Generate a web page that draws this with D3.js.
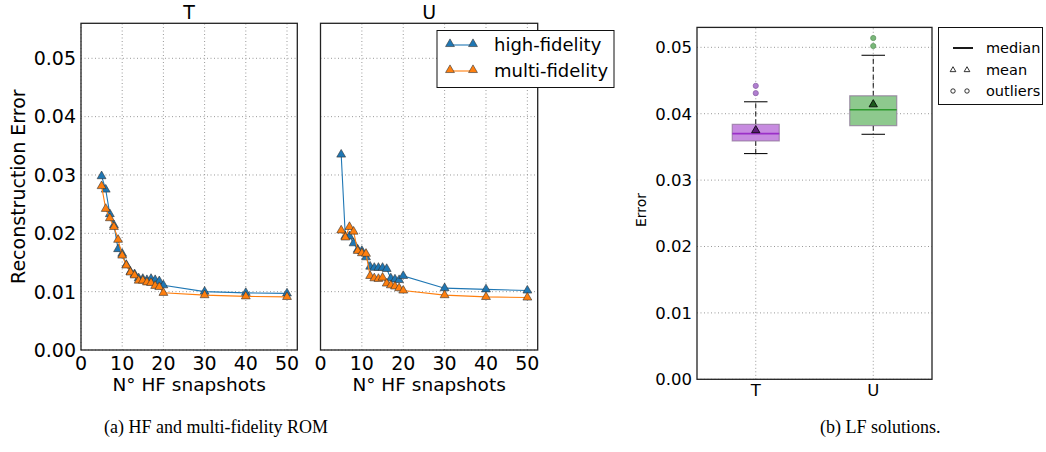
<!DOCTYPE html>
<meta charset="utf-8">
<script src="https://d3js.org/d3.v7.min.js"></script>
<style>
  body { margin: 0; background: #fff; }
  text { font-family: "DejaVu Sans", sans-serif; fill: #000; }
  .caption { font-family: "Liberation Serif", "DejaVu Serif", serif; }
</style>
<div id="my_dataviz"></div>
<script>

// ---- data: panel (a) ----
var snapshots = [5, 6, 7, 8, 9, 10, 11, 12, 13, 14, 15, 16, 17, 18, 19, 20, 30, 40, 50];

var hfT = [0.0298, 0.0275, 0.0233, 0.0214, 0.0173, 0.0165, 0.0146, 0.0134, 0.0130, 0.0123,
           0.0122, 0.0120, 0.0122, 0.0120, 0.0118, 0.0111, 0.0100, 0.0098, 0.0097];
var mfT = [0.0281, 0.0242, 0.0226, 0.0211, 0.0189, 0.0162, 0.0145, 0.0133, 0.0128, 0.0119,
           0.0119, 0.0116, 0.0115, 0.0110, 0.0108, 0.0098, 0.0094, 0.0092, 0.0091];

var hfU = [0.0335, 0.0195, 0.0195, 0.0183, 0.0172, 0.0170, 0.0159, 0.0143, 0.0141, 0.0141,
           0.0141, 0.0139, 0.0123, 0.0121, 0.0120, 0.0127, 0.0106, 0.0104, 0.0102];
var mfU = [0.0205, 0.0193, 0.0211, 0.0203, 0.0170, 0.0166, 0.0165, 0.0127, 0.0123, 0.0122,
           0.0124, 0.0114, 0.0111, 0.0109, 0.0106, 0.0102, 0.0094, 0.0091, 0.0090];

var lineTicksX = [0, 10, 20, 30, 40, 50];
var lineTicksY = [0.00, 0.01, 0.02, 0.03, 0.04, 0.05];
var seriesNames = ["high-fidelity", "multi-fidelity"];

// ---- data: panel (b) ----
var boxLabels = ["T", "U"];
var boxQ1 = [0.0359, 0.0382];
var boxMedian = [0.0370, 0.0406];
var boxQ3 = [0.0384, 0.0427];
var boxMean = [0.0375, 0.0414];
var whiskerLow = [0.0340, 0.0369];
var whiskerHigh = [0.0418, 0.0488];
var boxOutliers = [[0.0431, 0.0442], [0.0502, 0.0514]];
var boxTicksY = [0.00, 0.01, 0.02, 0.03, 0.04, 0.05];

var blue = "#1f77b4", orange = "#ff7f0e";
var boxFill = ["#c78be0", "#8ec98e"];
var boxLine = ["#9b30c8", "#2f9a2f"];
var boxDot = ["#b07ed0", "#79b879"];

var svg = d3.select("#my_dataviz").append("svg")
    .attr("width", 1046).attr("height", 452);

var tri = d3.symbol().type(d3.symbolTriangle).size(34);

function grid(g, x, y, xt, yt) {
  g.selectAll(".gx").data(xt).enter().append("line")
    .attr("x1", d => x(d)).attr("x2", d => x(d))
    .attr("y1", y.range()[0]).attr("y2", y.range()[1])
    .attr("stroke", "#999").attr("stroke-dasharray", "1,2.5").attr("stroke-width", 1);
  g.selectAll(".gy").data(yt).enter().append("line")
    .attr("x1", x.range()[0]).attr("x2", x.range()[1])
    .attr("y1", d => y(d)).attr("y2", d => y(d))
    .attr("stroke", "#999").attr("stroke-dasharray", "1,2.5").attr("stroke-width", 1);
}

function frame(g, x, y) {
  g.append("rect")
    .attr("x", x.range()[0]).attr("y", y.range()[1])
    .attr("width", x.range()[1] - x.range()[0])
    .attr("height", y.range()[0] - y.range()[1])
    .attr("fill", "none").attr("stroke", "#222").attr("stroke-width", 1.3);
}

// ---- panel (a): two line plots sharing y ----
var yLine = d3.scaleLinear().domain([0, 0.056]).range([350, 23.3]);

function linePanel(left, right, title, hf, mf, showY) {
  var x = d3.scaleLinear().domain([0, 52.5]).range([left, right]);
  var g = svg.append("g");
  grid(g, x, yLine, lineTicksX, lineTicksY);

  [[hf, blue], [mf, orange]].forEach(function(s) {
    var pts = snapshots.map((d, i) => [d, s[0][i]]);
    g.append("path")
      .attr("d", d3.line().x(d => x(d[0])).y(d => yLine(d[1]))(pts))
      .attr("fill", "none").attr("stroke", s[1]).attr("stroke-width", 1.1);
    g.selectAll(null).data(pts).enter().append("path")
      .attr("d", tri)
      .attr("transform", d => "translate(" + x(d[0]) + "," + yLine(d[1]) + ")")
      .attr("fill", s[1]).attr("stroke", "#333").attr("stroke-width", 0.6);
  });

  frame(g, x, yLine);

  g.selectAll(".xl").data(lineTicksX).enter().append("text")
    .attr("x", d => x(d)).attr("y", 370)
    .attr("text-anchor", "middle").style("font-size", "19px")
    .text(d => d);
  if (showY) {
    g.selectAll(".yl").data(lineTicksY).enter().append("text")
      .attr("x", left - 5).attr("y", d => yLine(d))
      .attr("dy", "0.36em")
      .attr("text-anchor", "end").style("font-size", "19px")
      .text(d => d3.format(".2f")(d));
  }
  g.append("text")
    .attr("x", (left + right) / 2).attr("y", 19)
    .attr("text-anchor", "middle").style("font-size", "19px")
    .text(title);
  g.append("text")
    .attr("x", (left + right) / 2).attr("y", 391)
    .attr("text-anchor", "middle").style("font-size", "18.5px")
    .text("N° HF snapshots");
  return x;
}

linePanel(81, 297.3, "T", hfT, mfT, true);
linePanel(320.5, 537.7, "U", hfU, mfU, false);

svg.append("text")
  .attr("transform", "translate(25," + yLine(0.028) + ") rotate(-90)")
  .attr("text-anchor", "middle").style("font-size", "19px")
  .text("Reconstruction Error");

// legend (a)
var legA = svg.append("g");
legA.append("rect")
  .attr("x", 437).attr("y", 30.5).attr("width", 177).attr("height", 57)
  .attr("fill", "#fff").attr("stroke", "#111").attr("stroke-width", 1);
[[blue, 45], [orange, 71]].forEach(function(s, i) {
  legA.append("line").attr("x1", 450).attr("x2", 473)
    .attr("y1", s[1]).attr("y2", s[1])
    .attr("stroke", s[0]).attr("stroke-width", 1.1);
  [450, 473].forEach(function(px) {
    legA.append("path").attr("d", tri)
      .attr("transform", "translate(" + px + "," + (s[1] - 1) + ")")
      .attr("fill", s[0]).attr("stroke", "#333").attr("stroke-width", 0.6);
  });
  legA.append("text").attr("x", 494).attr("y", s[1]).attr("dy", "0.36em")
    .style("font-size", "18px").text(seriesNames[i]);
});

// ---- panel (b): box plots ----
var xb = d3.scaleLinear().domain([0.5, 2.5]).range([697, 932]);
var yb = d3.scaleLinear().domain([0, 0.053]).range([379.3, 27.4]);
var gb = svg.append("g");
grid(gb, xb, yb, [1, 2], boxTicksY);

boxLabels.forEach(function(lab, i) {
  var cx = xb(i + 1);
  var hw = xb(0.2) - xb(0), cw = xb(0.1) - xb(0);
  // whiskers
  gb.append("line").attr("x1", cx).attr("x2", cx)
    .attr("y1", yb(boxQ3[i])).attr("y2", yb(whiskerHigh[i]))
    .attr("stroke", "#111").attr("stroke-dasharray", "5,3");
  gb.append("line").attr("x1", cx).attr("x2", cx)
    .attr("y1", yb(boxQ1[i])).attr("y2", yb(whiskerLow[i]))
    .attr("stroke", "#111").attr("stroke-dasharray", "5,3");
  [whiskerHigh[i], whiskerLow[i]].forEach(function(v) {
    gb.append("line").attr("x1", cx - cw).attr("x2", cx + cw)
      .attr("y1", yb(v)).attr("y2", yb(v))
      .attr("stroke", "#111").attr("stroke-width", 1.1);
  });
  // box
  gb.append("rect")
    .attr("x", cx - hw).attr("y", yb(boxQ3[i]))
    .attr("width", 2 * hw).attr("height", yb(boxQ1[i]) - yb(boxQ3[i]))
    .attr("fill", boxFill[i]).attr("stroke", "#8a6f95").attr("stroke-opacity", 0.7)
    .attr("stroke-width", 1.2);
  gb.append("line").attr("x1", cx - hw).attr("x2", cx + hw)
    .attr("y1", yb(boxMedian[i])).attr("y2", yb(boxMedian[i]))
    .attr("stroke", boxLine[i]).attr("stroke-width", 1.6);
  // mean
  gb.append("path").attr("d", d3.symbol().type(d3.symbolTriangle).size(30))
    .attr("transform", "translate(" + cx + "," + yb(boxMean[i]) + ")")
    .attr("fill", d3.color(boxLine[i]).darker(1.5)).attr("stroke", "#000").attr("stroke-width", 0.8);
  // outliers
  gb.selectAll(null).data(boxOutliers[i]).enter().append("circle")
    .attr("cx", cx).attr("cy", d => yb(d)).attr("r", 2.6)
    .attr("fill", boxDot[i]).attr("stroke", d3.color(boxDot[i]).darker(0.6)).attr("stroke-width", 0.8);
});

frame(gb, xb, yb);

gb.selectAll(".by").data(boxTicksY).enter().append("text")
  .attr("x", 692).attr("y", d => yb(d)).attr("dy", "0.36em")
  .attr("text-anchor", "end").style("font-size", "16.5px")
  .text(d => d3.format(".2f")(d));
gb.selectAll(".bx").data(boxLabels).enter().append("text")
  .attr("x", (d, i) => xb(i + 1)).attr("y", 396)
  .attr("text-anchor", "middle").style("font-size", "16.5px")
  .text(d => d);
svg.append("text")
  .attr("transform", "translate(646,210) rotate(-90)")
  .attr("text-anchor", "middle").style("font-size", "14px")
  .text("Error");

// legend (b)
var legB = svg.append("g");
legB.append("rect").attr("x", 938.5).attr("y", 27.5).attr("width", 104).attr("height", 77)
  .attr("fill", "#fff").attr("stroke", "#111").attr("stroke-width", 1);
legB.append("line").attr("x1", 953).attr("x2", 973).attr("y1", 48).attr("y2", 48)
  .attr("stroke", "#000").attr("stroke-width", 1.8);
[953, 967].forEach(function(px) {
  legB.append("path").attr("d", d3.symbol().type(d3.symbolTriangle).size(14))
    .attr("transform", "translate(" + px + ",70)")
    .attr("fill", "#fff").attr("stroke", "#000").attr("stroke-width", 0.8);
  legB.append("circle").attr("cx", px).attr("cy", 91).attr("r", 2.2)
    .attr("fill", "#fff").attr("stroke", "#000").attr("stroke-width", 0.8);
});
legB.selectAll(null).data(["median", "mean", "outliers"]).enter().append("text")
  .attr("x", 986).attr("y", (d, i) => [48, 70, 91][i]).attr("dy", "0.36em")
  .style("font-size", "14.5px").text(d => d);

// captions
svg.append("text").attr("class", "caption")
  .attr("x", 104).attr("y", 433).style("font-size", "18px")
  .text("(a) HF and multi-fidelity ROM");
svg.append("text").attr("class", "caption")
  .attr("x", 820).attr("y", 433).style("font-size", "18px")
  .text("(b) LF solutions.");

</script>
